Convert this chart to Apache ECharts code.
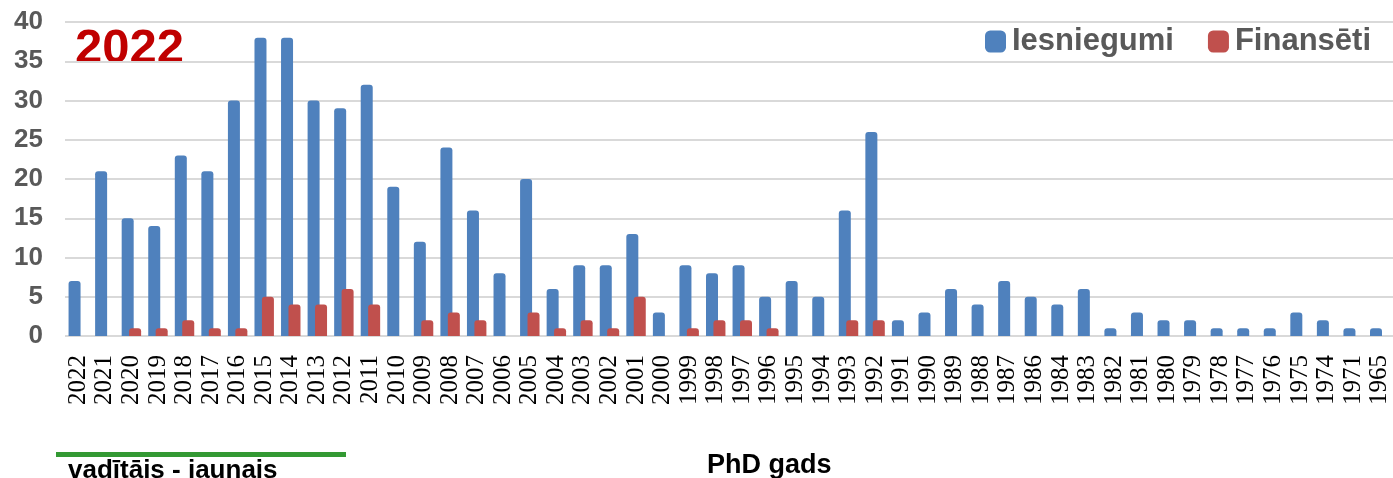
<!DOCTYPE html>
<html>
<head>
<meta charset="utf-8">
<script src="https://cdn.jsdelivr.net/npm/echarts@6/dist/echarts.min.js"></script>
<style>
  html, body { margin: 0; padding: 0; background: #fff; }
  #chart { width: 1393px; height: 478px; }
</style>
</head>
<body>
<!-- chart area -->
<div id="chart"></div>
<script>
// PhD years (x axis)
var years = ['2022','2021','2020','2019','2018','2017','2016','2015','2014','2013',
  '2012','2011','2010','2009','2008','2007','2006','2005','2004','2003',
  '2002','2001','2000','1999','1998','1997','1996','1995','1994','1993',
  '1992','1991','1990','1989','1988','1987','1986','1984','1983','1982',
  '1981','1980','1979','1978','1977','1976','1975','1974','1971','1965'];

// submissions
var iesniegumi = [7,21,15,14,23,21,30,38,38,30,
  29,32,19,12,24,16,8,20,6,9,
  9,13,3,9,8,9,5,7,5,16,
  26,2,3,6,4,7,5,4,6,1,
  3,2,2,1,1,1,3,2,1,1];

// funded
var finanseti = [null,null,1,1,2,1,1,5,4,4,
  6,4,null,2,3,2,null,3,1,2,
  1,5,null,1,2,2,1,null,null,2,
  2,null,null,null,null,null,null,null,null,null,
  null,null,null,null,null,null,null,null,null,null];

var yTicks = { min: 0, max: 40, interval: 5 };

var sans = "'Liberation Sans', Arial, sans-serif";
var serif = "'Liberation Serif', 'DejaVu Serif', serif";

var myChart = echarts.init(document.getElementById('chart'));

var option = {
  animation: false,
  grid: {
    left: 65,
    top: 22,
    width: 1336,
    height: 314
  },
  legend: {
    left: 980,
    top: 21,
    itemWidth: 21,
    itemHeight: 22,
    itemGap: 34,
    icon: 'roundRect',
    textStyle: {
      fontFamily: sans,
      fontWeight: 'bold',
      fontSize: 31,
      color: '#595959',
      padding: [0, 0, 0, 1]
    },
    data: ['Iesniegumi', 'Finansēti']
  },
  xAxis: {
    type: 'category',
    data: years,
    axisLine: { show: false },
    axisTick: { show: false },
    axisLabel: {
      rotate: 90,
      interval: 0,
      margin: 19,
      fontFamily: serif,
      fontSize: 25,
      color: '#000',
      formatter: function (v) { return '{yr|' + v + '}'; },
      rich: {
        yr: { fontFamily: serif, fontSize: 25, color: '#000' }
      }
    }
  },
  yAxis: {
    type: 'value',
    min: yTicks.min,
    max: yTicks.max,
    interval: yTicks.interval,
    axisLine: { show: false },
    axisTick: { show: false },
    axisLabel: {
      margin: 22,
      fontFamily: sans,
      fontWeight: 'bold',
      fontSize: 26,
      color: '#595959'
    },
    splitLine: { lineStyle: { color: '#d9d9d9', width: 2 } }
  },
  series: [
    {
      name: 'Iesniegumi',
      type: 'bar',
      data: iesniegumi,
      barWidth: 12,
      barGap: '-38%',
      itemStyle: { color: '#4f81bd', borderRadius: [3, 3, 0, 0] }
    },
    {
      name: 'Finansēti',
      type: 'bar',
      data: finanseti,
      barWidth: 12,
      itemStyle: { color: '#c0504d', borderRadius: [3, 3, 0, 0] }
    }
  ],
  graphic: [
    {
      type: 'text',
      left: 75,
      top: 25,
      style: {
        text: '2022',
        fontFamily: sans,
        fontWeight: 'bold',
        fontSize: 49,
        fill: '#c00000'
      }
    },
    {
      type: 'rect',
      left: 56,
      top: 452,
      shape: { width: 290, height: 5 },
      style: { fill: '#339933' }
    },
    {
      type: 'text',
      left: 68,
      top: 458,
      style: {
        text: 'vadītājs - jaunais',
        fontFamily: sans,
        fontWeight: 'bold',
        fontSize: 26,
        fill: '#000'
      }
    },
    {
      type: 'text',
      left: 707,
      top: 452,
      style: {
        text: 'PhD gads',
        fontFamily: sans,
        fontWeight: 'bold',
        fontSize: 27,
        fill: '#000'
      }
    }
  ]
};

myChart.setOption(option);
</script>
</body>
</html>
